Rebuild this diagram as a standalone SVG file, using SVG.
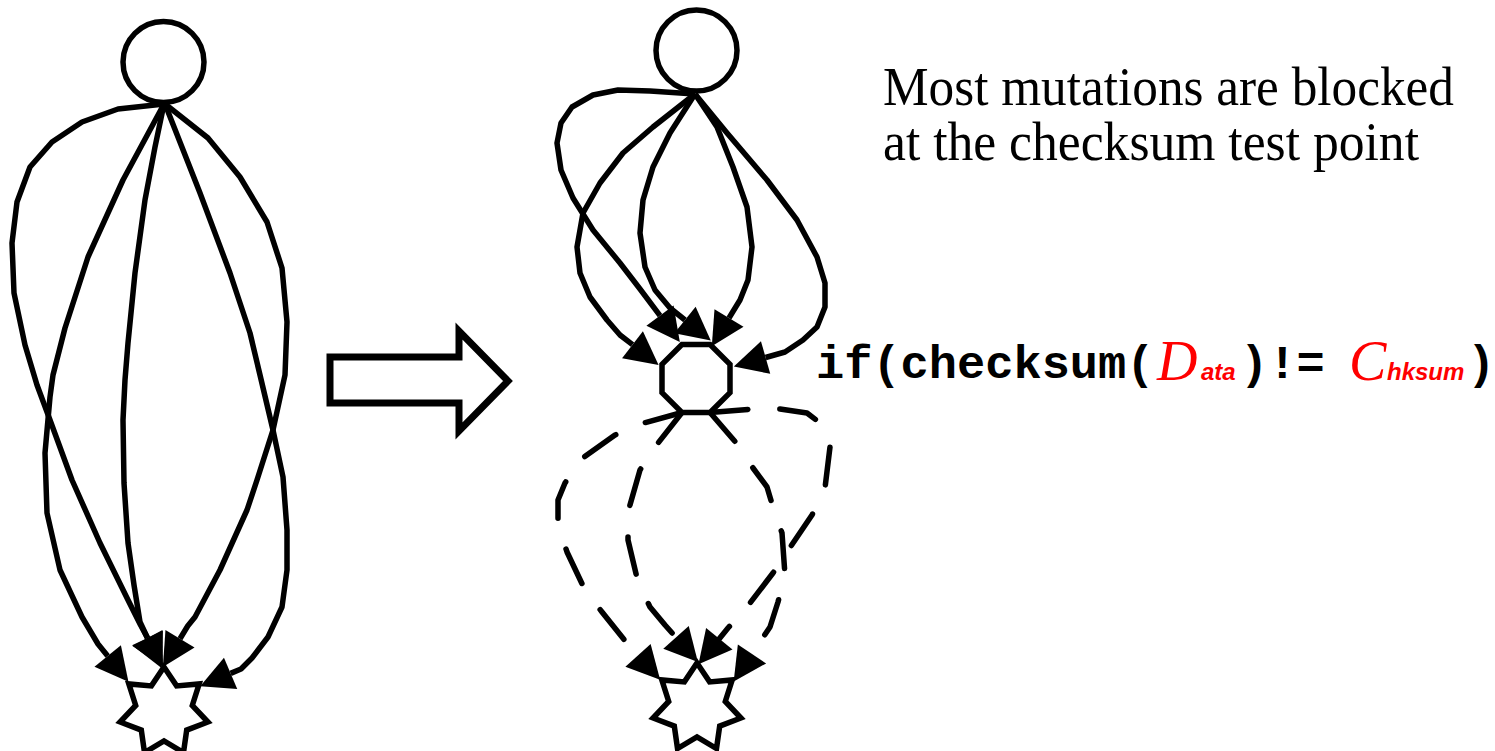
<svg xmlns="http://www.w3.org/2000/svg" width="1495" height="751" viewBox="0 0 1495 751">
  <style>
    .edge { fill: none; stroke: #000; stroke-width: 5.5; stroke-linejoin: round; marker-end: url(#ah); }
    .dash { stroke-dasharray: 38 32; stroke-linecap: round; }
    .node { fill: #fff; stroke: #000; stroke-width: 5.5; stroke-linejoin: miter; }
    .big { fill: #fff; stroke: #000; stroke-width: 7; stroke-linejoin: miter; }
    .note { font-family: 'Liberation Serif', serif; font-size: 54px; fill: #000; }
    .code { font-family: 'Liberation Mono', 'Courier New', monospace; font-weight: bold; font-size: 47px; fill: #000; }
    .var { font-family: 'Liberation Serif', 'Times New Roman', serif; font-style: italic; font-size: 56px; fill: #f00; }
    .sub { font-family: 'Liberation Sans', Arial, sans-serif; font-style: italic; font-weight: bold; font-size: 24px; fill: #f00; }
  </style>
  <defs>
    <!-- filled arrowhead: base at the path end, tip 33px ahead -->
    <marker id="ah" markerUnits="userSpaceOnUse" markerWidth="40" markerHeight="40" refX="0" refY="0" orient="auto" overflow="visible">
      <path d="M0,-17 L33,0 L0,17 Z" fill="#000"/>
    </marker>
    <!-- seven-pointed star, centred on the origin -->
    <path id="star7" d="M0,-45 L12.6,-26.1 L35.2,-28.1 L28.3,-6.5 L43.9,10 L22.7,18.1 L19.5,40.5 L0,29 L-19.5,40.5 L-22.7,18.1 L-43.9,10 L-28.3,-6.5 L-35.2,-28.1 L-12.6,-26.1 Z"/>
  </defs>

  <!-- connectors: unchecked program paths -->
  <g id="edges-left">
    <path class="edge" d="M164,104 L118,109 L82,122 L52,142 L30,167 L17,202 L12,243 L14,293 L25,345 L37,385 L50,420 L72,480 L100,543 L128,600 L140.4,624.7 L147.5,638"/>
    <path class="edge" d="M164,104 L123,180 L88,257 L65,328 L53,375 L50,397 L45,453 L47,513 L60,570 L82,617 L98,644 L107.7,656"/>
    <path class="edge" d="M164,104 L155,147 L145,200 L135,273 L128,343 L125,380 L123,420 L124,483 L128,543 L134,585 L140,622 L147.5,638"/>
    <path class="edge" d="M165,104 L200,193 L230,273 L250,333 L260,375 L273,430 L283,477 L287,530 L287,570 L282,607 L268,637 L252,658 L241,669 L230.6,673.4"/>
    <path class="edge" d="M165,104 L208,138 L240,177 L267,222 L282,268 L287,322 L285,375 L273,430 L257,480 L247,510 L220,570 L195,617 L187.7,626 L180,638.7"/>
  </g>

  <!-- connectors: paths funnelled through the checksum test -->
  <g id="edges-right">
    <path class="edge" d="M695,94 L650,91 L618,90 L593,95 L572,107 L561,123 L557,143 L561,170 L573,198 L593,230 L620,263 L640,289 L660,315.6"/>
    <path class="edge" d="M695,94 L653,127 L623,153 L600,183 L583,213 L577,247 L580,273 L590,297 L607,320 L620,335 L632.5,344.7"/>
    <path class="edge" d="M695,94 L670,133 L653,167 L643,200 L640,233 L645,267 L655,290 L670,308 L685,320"/>
    <path class="edge" d="M695,94 L717,127 L733,167 L747,207 L752,247 L748,280 L740,300 L729,318"/>
    <path class="edge" d="M695,94 L727,133 L767,180 L797,220 L817,257 L825,283 L825,307 L817,327 L803,340 L785,352 L765.6,357.5"/>
    <path class="edge dash" d="M682,412.5 L640,424 L615,435 L580,460 L565,483 L558,500 L558,525 L567,552 L585,590 L602,612 L626,642 L638,655.3"/>
    <path class="edge dash" d="M682,412.5 L655,447 L640,470 L628,512 L628,540 L638,582 L650,607 L665,625 L676,637.4"/>
    <path class="edge dash" d="M710,412.5 L738,445 L753,468 L767,487 L773,507 L782,533 L785,575 L778,602 L770,627 L760,642 L752,654"/>
    <path class="edge dash" d="M710,412.5 L753,409 L780,409 L807,413 L820,423 L830,447 L825,488 L812,515 L787,552 L773,573 L747,607 L728,628 L719.3,638.7"/>
  </g>

  <!-- nodes -->
  <g id="left-entry"><circle class="node" cx="163.5" cy="62" r="40.5"/></g>
  <g id="left-exit"><use href="#star7" class="node" x="164" y="712"/></g>
  <g id="right-entry"><circle class="node" cx="696.5" cy="50.5" r="40.5"/></g>
  <g id="checksum-test"><polygon class="node" points="681.9,344.5 710.1,344.5 730,364.4 730,392.6 710.1,412.5 681.9,412.5 662,392.6 662,364.4"/></g>
  <g id="right-exit"><use href="#star7" class="node" x="697" y="708"/></g>

  <!-- transformation arrow between the two graphs -->
  <g id="transform-arrow"><polygon class="big" points="330,357 459,357 459,331 508,381 459,431 459,403 330,403"/></g>

  <!-- captions -->
  <g id="caption">
    <text class="note" x="883" y="105" textLength="571" lengthAdjust="spacingAndGlyphs">Most mutations are blocked</text>
    <text class="note" x="883" y="160" textLength="536" lengthAdjust="spacingAndGlyphs">at the checksum test point</text>
  </g>
  <g id="condition">
    <text class="code" y="378"><tspan x="816">if(checksum(</tspan><tspan x="1240">)!=</tspan><tspan x="1467">)</tspan></text>
    <text class="var" y="380"><tspan x="1157">D</tspan><tspan x="1349">C</tspan></text>
    <text class="sub" y="380"><tspan x="1201">ata</tspan><tspan x="1387">hksum</tspan></text>
  </g>
</svg>
